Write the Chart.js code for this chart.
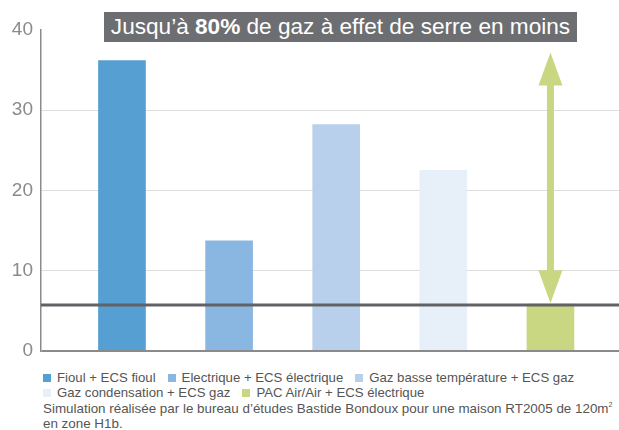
<!DOCTYPE html>
<html lang="fr">
<head>
<meta charset="UTF-8">
<title>Gaz à effet de serre</title>
<script src="https://cdn.jsdelivr.net/npm/chart.js"></script>
<style>
    body {
        margin: 0;
        width: 619px;
        height: 430px;
        background: #fff;
        font-family: "Liberation Sans", Arial, sans-serif;
        position: relative;
        overflow: hidden;
    }
    #wrap {
        position: absolute;
        left: 0;
        top: 0;
        width: 619px;
        height: 370px;
    }
    /* bandeau titre */
    .title {
        position: absolute;
        left: 104px;
        top: 12px;
        width: 473px;
        height: 30px;
        line-height: 30px;
        background: #6d6e71;
        color: #fff;
        font-size: 22.6px;
        text-align: center;
        white-space: nowrap;
    }
    .legend {
        position: absolute;
        left: 43px;
        top: 370px;
        font-size: 13.2px;
        color: #555;
        line-height: 15.4px;
        white-space: nowrap;
    }
    .legend span.item { margin-right: 12px; }
    .legend i {
        display: inline-block;
        width: 8px;
        height: 8px;
        margin-right: 6px;
        vertical-align: 0px;
    }
    sup { font-size: 7px; vertical-align: 6px; line-height: 0; }
</style>
</head>
<body>
<div id="wrap"><canvas id="chart" width="619" height="370"></canvas></div>
<div class="title">Jusqu’à <b>80%</b> de gaz à effet de serre en moins</div>
<div class="legend" id="legend"></div>

<script>
// séries
const categories = ['Fioul + ECS fioul', 'Electrique + ECS électrique', 'Gaz basse température + ECS gaz',
    'Gaz condensation + ECS gaz', 'PAC Air/Air + ECS électrique'];
const values = [36.2, 13.7, 28.2, 22.5, 5.8];
const colors = ['#569fd3', '#8ab7e1', '#b9d0ec', '#e7eff8', '#cad782'];
const refLevel = [5.7, 5.7];        // ligne de référence
const arrowRange = [37.2, 5.9];     // flèche double (haut, bas)
const yTicks = [0, 10, 20, 30, 40];
const note = 'Simulation réalisée par le bureau d’études Bastide Bondoux pour une maison RT2005 de 120m<sup>2</sup><br>en zone H1b.';

const xMin = -0.756, xMax = 4.64;

// légende HTML
const leg = document.getElementById('legend');
let html = '';
categories.forEach((c, i) => {
    html += '<span class="item"><i style="background:' + colors[i] + '"></i>' + c + '</span>';
    if (i === 2) html += '<br>';
});
html += '<br><span style="font-size:13.4px">' + note + '</span>';
leg.innerHTML = html;

// flèche double sur la dernière barre
const arrowPlugin = {
    id: 'arrow',
    afterDatasetsDraw(chart) {
        const ctx = chart.ctx;
        const x = chart.scales.x.getPixelForValue(categories.length - 1);
        const yTop = chart.scales.y.getPixelForValue(arrowRange[0]);
        const yBot = chart.scales.y.getPixelForValue(arrowRange[1]);
        const headH = 33, headW = 12;
        ctx.save();
        ctx.fillStyle = '#cad782';
        ctx.fillRect(x - 3.5, yTop + headH - 1, 7, yBot - yTop - 2 * headH + 2);
        ctx.beginPath();
        ctx.moveTo(x, yTop);
        ctx.lineTo(x + headW, yTop + headH);
        ctx.lineTo(x - headW, yTop + headH);
        ctx.closePath();
        ctx.fill();
        ctx.beginPath();
        ctx.moveTo(x, yBot);
        ctx.lineTo(x + headW, yBot - headH);
        ctx.lineTo(x - headW, yBot - headH);
        ctx.closePath();
        ctx.fill();
        ctx.restore();
    }
};

new Chart(document.getElementById('chart'), {
    type: 'bar',
    data: {
        datasets: [
            {
                type: 'line',
                data: [{x: xMin, y: refLevel[0]}, {x: xMax, y: refLevel[1]}],
                borderColor: '#616265',
                borderWidth: 3,
                pointRadius: 0,
                order: 0
            },
            {
                data: values.map((v, i) => ({x: i, y: v})),
                backgroundColor: colors,
                barThickness: 47,
                order: 1
            }
        ]
    },
    options: {
        responsive: false,
        animation: false,
        layout: { padding: { top: 30, bottom: 0, left: 0, right: 0 } },
        plugins: { legend: { display: false }, tooltip: { enabled: false } },
        scales: {
            x: {
                type: 'linear',
                min: xMin,
                max: xMax,
                offset: false,
                display: false
            },
            y: {
                min: 0,
                max: 40,
                afterFit(axis) { axis.width = 41; },
                afterBuildTicks(axis) { axis.ticks = yTicks.map(v => ({value: v})); },
                ticks: {
                    padding: 8,
                    color: '#8a8a8a',
                    font: { family: 'Liberation Sans', size: 19 }
                },
                grid: {
                    drawTicks: false,
                    color: c => c.tick.value === 0 ? '#8a8a8a' : (c.tick.value === 40 ? 'rgba(0,0,0,0)' : '#dcdcdc'),
                    lineWidth: c => c.tick.value === 0 ? 2 : 1
                },
                border: { color: '#8a8a8a', width: 1.5 }
            }
        }
    },
    plugins: [arrowPlugin]
});
</script>
</body>
</html>
